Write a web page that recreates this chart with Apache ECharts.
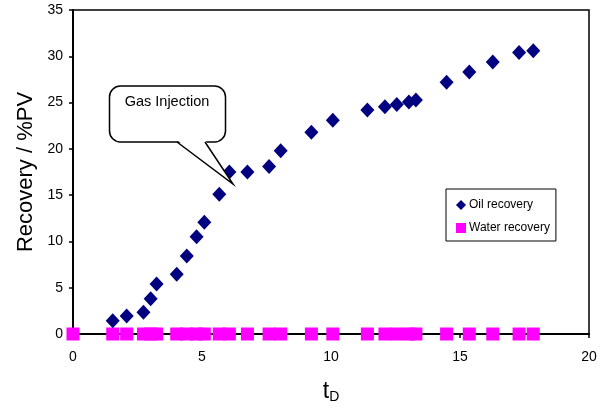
<!DOCTYPE html>
<html><head><meta charset="utf-8">
<script src="https://cdn.jsdelivr.net/npm/echarts@6/dist/echarts.min.js"></script>
<style>html,body{margin:0;padding:0;background:#fff}#c{width:610px;height:412px}</style>
</head><body><div id="c"></div>
<script>
var tD = [1.54, 2.08, 2.73, 3.01, 3.24, 4.02, 4.41, 4.79, 5.09, 5.67, 6.06, 6.76, 7.60, 8.05, 9.24, 10.07, 11.41, 12.09, 12.55, 13.02, 13.29, 14.48, 15.36, 16.27, 17.29, 17.84];
var oilRecovery = [1.44, 1.94, 2.34, 3.81, 5.4, 6.45, 8.42, 10.5, 12.06, 15.1, 17.5, 17.5, 18.1, 19.8, 21.8, 23.1, 24.2, 24.55, 24.8, 25.05, 25.27, 27.2, 28.3, 29.37, 30.4, 30.6];
var waterT = [0].concat(tD);
var waterRecovery = waterT.map(function(){return 0;});
var xTicks = [0, 5, 10, 15, 20];
var yTicks = [0, 5, 10, 15, 20, 25, 30, 35];

var chart = echarts.init(document.getElementById('c'));
var font = 'Liberation Sans, Arial, sans-serif';
var oilData = tD.map(function(t,i){return [t, oilRecovery[i]];});
var waterData = waterT.map(function(t,i){return [t, waterRecovery[i]];});
chart.setOption({
  animation: false,
  backgroundColor: '#fff',
  grid: {left: 73, right: 21, top: 10, bottom: 78, show: true, borderColor: '#000', borderWidth: 1.5, backgroundColor: '#fff'},
  xAxis: {
    type: 'value', min: xTicks[0], max: xTicks[xTicks.length-1], interval: 5,
    axisLine: {lineStyle: {color: '#000', width: 2}, onZero: false},
    axisTick: {show: true, inside: false, length: 4, lineStyle: {color: '#000', width: 1.5}},
    axisLabel: {color: '#000', fontSize: 14, fontFamily: font, margin: 16},
    splitLine: {show: false},
    name: '{t|t}{d|D}', nameLocation: 'middle', nameGap: 46,
    nameTextStyle: {rich: {t: {fontSize: 23, fontFamily: font, color: '#000'}, d: {fontSize: 14, fontFamily: font, color: '#000', verticalAlign: 'bottom', padding: [10,0,0,0]}}}
  },
  yAxis: {
    type: 'value', min: yTicks[0], max: yTicks[yTicks.length-1], interval: 5,
    axisLine: {lineStyle: {color: '#000', width: 2}, onZero: false},
    axisTick: {show: true, inside: false, length: 4, lineStyle: {color: '#000', width: 1.5}},
    axisLabel: {color: '#000', fontSize: 14, fontFamily: font, margin: 10},
    splitLine: {show: false},
    name: 'Recovery / %PV', nameLocation: 'middle', nameGap: 35, nameRotate: 90,
    nameTextStyle: {fontSize: 22, fontFamily: font, color: '#000'}
  },
  legend: {
    orient: 'vertical', left: 446, top: 189,
    borderColor: '#000', borderWidth: 1, backgroundColor: '#fff',
    padding: [10, 6, 7, 10], itemGap: 11, itemWidth: 10, itemHeight: 10,
    textStyle: {fontSize: 12, fontFamily: font, color: '#000', padding: [0,0,0,-2]},
    data: [{name: 'Oil recovery', icon: 'diamond'}, {name: 'Water recovery', icon: 'rect'}]
  },
  series: [
    {name: 'Water recovery', type: 'scatter', data: waterData, symbol: 'rect', symbolSize: 13, itemStyle: {color: '#FF00FF', opacity: 1}, z: 3},
    {name: 'Oil recovery', type: 'scatter', data: oilData, symbol: 'diamond', symbolSize: [14,15], itemStyle: {color: '#000080', opacity: 1}, z: 4}
  ],
  graphic: [
    {type: 'rect', shape: {x: 109.5, y: 86, width: 116, height: 56, r: 11}, style: {fill: '#fff', stroke: '#000', lineWidth: 1.5}, z: 100},
    {type: 'polygon', shape: {points: [[177,140],[233,184],[205,140]]}, style: {fill: '#fff', stroke: null}, z: 101},
    {type: 'polyline', shape: {points: [[177,142],[233,184],[205,142]]}, style: {stroke: '#000', lineWidth: 1.5, fill: null}, z: 102},
    {type: 'text', style: {text: 'Gas Injection', x: 167, y: 102, fontSize: 14.5, fontFamily: font, fill: '#000', textAlign: 'center', textVerticalAlign: 'middle'}, z: 103}
  ]
});
</script></body></html>
